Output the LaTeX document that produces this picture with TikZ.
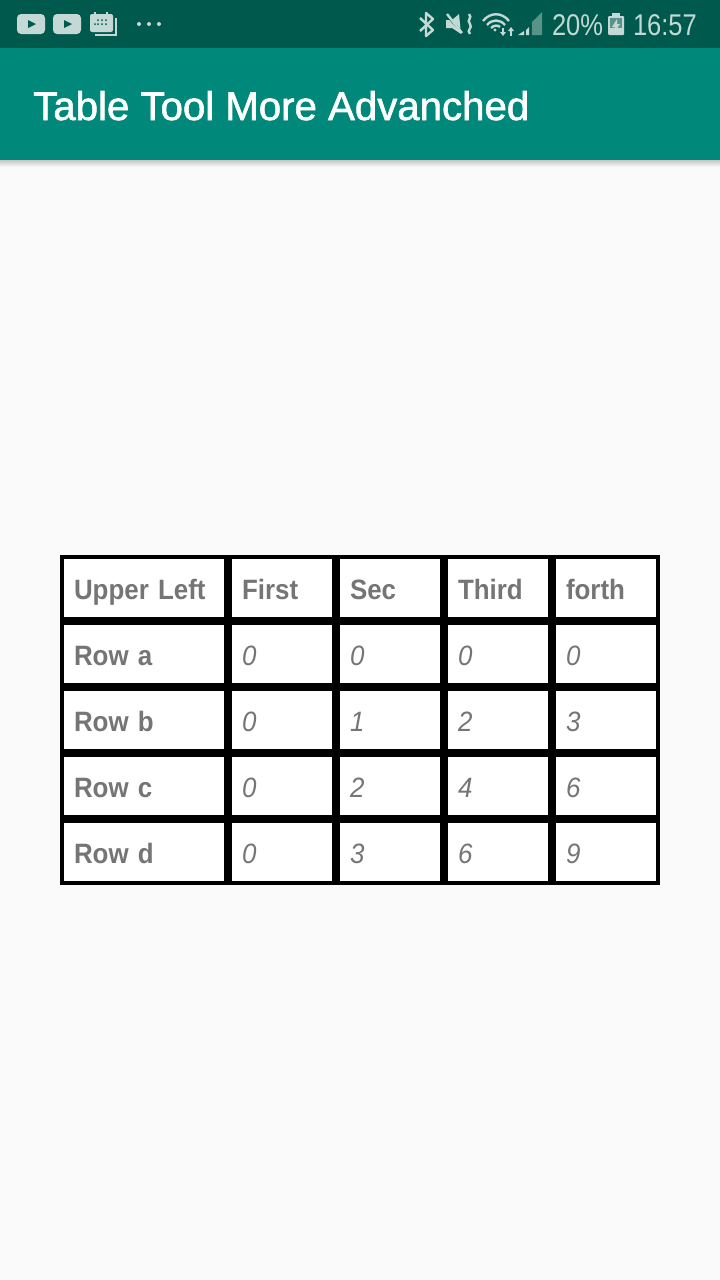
\documentclass[tikz,border=0pt]{standalone}
\usepackage{fontspec}
\setmainfont{Liberation Sans}
\newfontfamily\cellfont[FakeStretch=0.925]{Liberation Sans}
\newfontfamily\statusfont[FakeStretch=0.85]{Liberation Sans}
\newfontfamily\titlefont[FakeBold=1.5, FakeStretch=1.005]{Liberation Sans}
\usetikzlibrary{positioning}
\definecolor{statusbar}{HTML}{00594D}
\definecolor{appbar}{HTML}{00897B}
\definecolor{pagebg}{HTML}{FAFAFA}
\definecolor{icongrey}{HTML}{C4D9D5}
\definecolor{celltext}{HTML}{757575}
\tikzset{
	cell/.style={rectangle, fill=white, inner xsep=10pt, inner ysep=0pt, outer sep=0pt, minimum height=58pt, text height=22pt, text depth=0pt, anchor=north west, align=left, text=celltext},
	rowhead/.style={cell, text width=140pt, font=\cellfont\fontsize{28}{28}\selectfont\bfseries},
	colhead/.style={cell, text width=80pt, font=\cellfont\fontsize{28}{28}\selectfont\bfseries},
	value/.style={cell, text width=80pt, font=\cellfont\fontsize{28}{28}\selectfont\itshape},
	statustext/.style={inner sep=0pt, outer sep=0pt, anchor=base west, text=icongrey, font=\statusfont\fontsize{30}{30}\selectfont},
	icon/.style={fill=icongrey, draw=none},
	iconline/.style={draw=icongrey, line width=2.4pt, fill=none},
}

\begin{document}
\begin{tikzpicture}[x=1pt, y=-1pt, node distance=8pt]
	\fill[pagebg] (0,0) rectangle (720,1280);
	\useasboundingbox (0,0) rectangle (720,1280);
	
	% bars at the top
	\fill[statusbar] (0,0) rectangle (720,48);
	\fill[appbar] (0,48) rectangle (720,160);
	\shade[top color=black!22, bottom color=pagebg] (0,160) rectangle (720,167);
	\node (title) [inner sep=0pt, anchor=base west, text=white, font=\titlefont\fontsize{40}{40}\selectfont] at (33,120) {Table Tool More Advanched};
	
	% left status icons
	\fill[icon, rounded corners=4pt] (17,14) rectangle (45,34);
	\fill[statusbar] (28,20) -- (36,24) -- (28,28) -- cycle;
	\fill[icon, rounded corners=4pt] (53,14) rectangle (81,34);
	\fill[statusbar] (64,20) -- (72,24) -- (64,28) -- cycle;
	\fill[icon, rounded corners=2pt] (90,14) rectangle (113,32);
	\fill[icon] (94,12) rectangle (96,15);
	\fill[icon] (106,12) rectangle (108,15);
	\draw[draw=icongrey, line width=1.5pt] (95,35) -- (116,35) -- (116,18);
	\foreach \dotx/\doty in {98/20, 102/20, 106/20, 98/24, 102/24, 106/24, 95/24}
		\fill[statusbar] (\dotx,\doty) circle (1pt);
	\fill[icon] (139,24) circle (2pt);
	\fill[icon] (149,24) circle (2pt);
	\fill[icon] (159,24) circle (2pt);
	
	% right status icons
	\draw[iconline, line join=round] (420,18) -- (433,30) -- (426,36) -- (426,13) -- (433,19) -- (420,31);
	\fill[icon] (446,20) -- (452,20) -- (459,14) -- (461,34) -- (452,28) -- (446,28) -- cycle;
	\draw[draw=statusbar, line width=2pt] (446,15) -- (463,33);
	\draw[iconline] (447,14) -- (462,33);
	\draw[draw=icongrey, line width=2.4pt] (469,14) .. controls (473,18) and (466,20) .. (470,24) .. controls (473,28) and (466,30) .. (470,34);
	\draw[iconline] (483,21) .. controls (490,12) and (502,12) .. (509,21);
	\draw[iconline] (487,25) .. controls (492,19) and (500,19) .. (505,25);
	\draw[iconline] (491,28) .. controls (494,25) and (498,25) .. (500,27);
	\fill[icon] (495,30) circle (1.6pt);
	\draw[draw=icongrey, line width=1.5pt] (503,28) -- (503,35);
	\fill[icon] (500,32) -- (506,32) -- (503,36) -- cycle;
	\draw[draw=icongrey, line width=1.5pt] (511,36) -- (511,29);
	\fill[icon] (508,31) -- (514,31) -- (511,27) -- cycle;
	\fill[icon] (518,35) -- (524,35) -- (524,31) -- cycle;
	\fill[icon] (526,35) -- (529,35) -- (529,27) -- (526,30) -- cycle;
	\fill[icongrey!45!statusbar] (532,35) -- (542,35) -- (542,12) -- (532,22) -- cycle;
	\node (percent) [statustext] at (552,35) {20\%};
	\fill[icon, rounded corners=1pt] (608,16) rectangle (624,35);
	\fill[icon] (612,13) rectangle (620,16);
	\fill[icongrey!45!statusbar] (610,18) rectangle (622,33);
	\fill[icon] (610,28) rectangle (622,33);
	\fill[icon] (617,19) -- (612,27) -- (615,27) -- (614,33) -- (620,24) -- (617,24) -- cycle;
	\node (clock) [statustext] at (633,35) {16:57};
	
	% table: black behind, white cells on top
	\fill[black] (60,555) rectangle (660,885);
	
	\node (ul) [rowhead] at (64,559) {Upper Left};
	\node (first) [colhead, right=of ul.north east, anchor=north west] {First};
	\node (sec) [colhead, right=of first.north east, anchor=north west] {Sec};
	\node (third) [colhead, right=of sec.north east, anchor=north west] {Third};
	\node (forth) [colhead, right=of third.north east, anchor=north west] {forth};
	
	\node (rowa) [rowhead, below=of ul.south west, anchor=north west] {Row a};
	\node (a1) [value, below=of first.south west, anchor=north west] {0};
	\node (a2) [value, below=of sec.south west, anchor=north west] {0};
	\node (a3) [value, below=of third.south west, anchor=north west] {0};
	\node (a4) [value, below=of forth.south west, anchor=north west] {0};
	
	\node (rowb) [rowhead, below=of rowa.south west, anchor=north west] {Row b};
	\node (b1) [value, below=of a1.south west, anchor=north west] {0};
	\node (b2) [value, below=of a2.south west, anchor=north west] {1};
	\node (b3) [value, below=of a3.south west, anchor=north west] {2};
	\node (b4) [value, below=of a4.south west, anchor=north west] {3};
	
	\node (rowc) [rowhead, below=of rowb.south west, anchor=north west] {Row c};
	\node (c1) [value, below=of b1.south west, anchor=north west] {0};
	\node (c2) [value, below=of b2.south west, anchor=north west] {2};
	\node (c3) [value, below=of b3.south west, anchor=north west] {4};
	\node (c4) [value, below=of b4.south west, anchor=north west] {6};
	
	\node (rowd) [rowhead, below=of rowc.south west, anchor=north west] {Row d};
	\node (d1) [value, below=of c1.south west, anchor=north west] {0};
	\node (d2) [value, below=of c2.south west, anchor=north west] {3};
	\node (d3) [value, below=of c3.south west, anchor=north west] {6};
	\node (d4) [value, below=of c4.south west, anchor=north west] {9};
	
\end{tikzpicture}
\end{document}
